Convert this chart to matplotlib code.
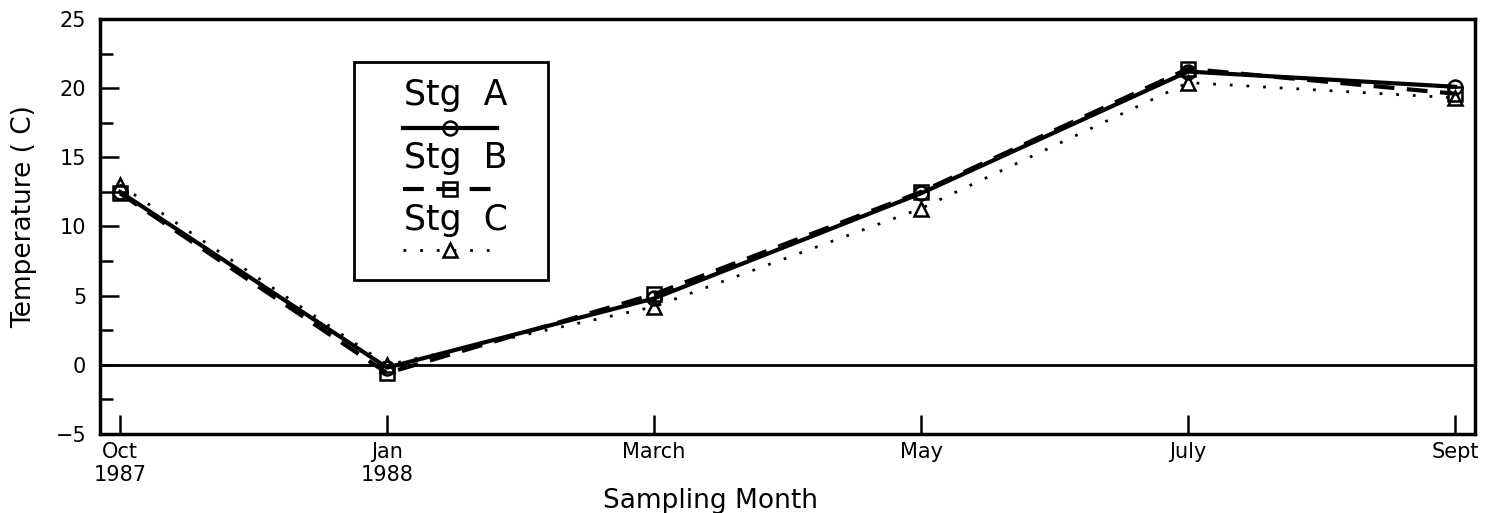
import matplotlib

matplotlib.use("Agg")
import matplotlib.pyplot as plt
from matplotlib.patches import Rectangle

plt.rcParams["font.family"] = ["DejaVu Sans"]
plt.rcParams["axes.unicode_minus"] = True

# 채취월(등간격 범주) 및 정점별 수온
months = ["Oct\n1987", "Jan\n1988", "March", "May", "July", "Sept"]
stg_a = [12.5, -0.2, 4.8, 12.4, 21.2, 20.1]
stg_b = [12.4, -0.6, 5.1, 12.5, 21.4, 19.6]
stg_c = [13.0, 0.0, 4.2, 11.3, 20.4, 19.3]

series = [
    ("Stg  A", stg_a, "-", "o", 3.0),
    ("Stg  B", stg_b, (0, (5, 3)), "s", 3.0),
    ("Stg  C", stg_c, (0, (1, 5)), "^", 2.0),
]

fig = plt.figure(figsize=(14.93, 5.13), dpi=100)
ax = fig.add_axes((0.067, 0.154, 0.921, 0.809))

x = list(range(len(months)))
for name, vals, ls, mk, lw in series:
    ax.plot(x, vals, color="black", linestyle=ls, linewidth=lw, marker=mk,
            markersize=10, markerfacecolor="none", markeredgecolor="black",
            markeredgewidth=1.8)

ax.axhline(0, color="black", linewidth=2)

ax.set_xlim(-0.075, len(months) - 1 + 0.075)
ax.set_ylim(-5, 25)
ax.set_xticks(x)
ax.set_xticklabels(months, fontsize=15, linespacing=1.15)
ax.set_yticks(range(-5, 26, 5))
ax.set_yticks([-2.5, 2.5, 7.5, 12.5, 17.5, 22.5], minor=True)
ax.tick_params(axis="y", which="major", direction="in", length=14, width=1.8,
               labelsize=15, pad=10)
ax.tick_params(axis="y", which="minor", direction="in", length=9, width=1.8)
ax.tick_params(axis="x", which="major", direction="in", length=14, width=1.8,
               pad=6)
for sp in ax.spines.values():
    sp.set_linewidth(2.5)

ax.set_xlabel("Sampling Month", fontsize=19)
ax.xaxis.set_label_coords(0.444, -0.13)
ax.set_ylabel("Temperature ( C)", fontsize=19)
ax.yaxis.set_label_coords(-0.046, 0.523)

# 범례 — 글자 위, 선·마커 아래 (원본 배치)
ax.add_patch(Rectangle((0.1847, 0.371), 0.1411, 0.525, transform=ax.transAxes,
                       fill=False, edgecolor="black", linewidth=2, zorder=5))
for i, (name, vals, ls, mk, lw) in enumerate(series):
    ty = 0.817 - i * 0.151
    ly = 0.737 - i * 0.147
    ax.text(0.259, ty, name, transform=ax.transAxes, ha="center", va="center",
            fontsize=25, zorder=6)
    ax.plot([0.2204, 0.2887], [ly, ly], transform=ax.transAxes, color="black",
            linestyle=ls, linewidth=lw, zorder=6)
    ax.plot([0.2545], [ly], transform=ax.transAxes, marker=mk, markersize=10,
            markerfacecolor="none", markeredgecolor="black",
            markeredgewidth=1.8, zorder=6)

fig.savefig("out.png")
